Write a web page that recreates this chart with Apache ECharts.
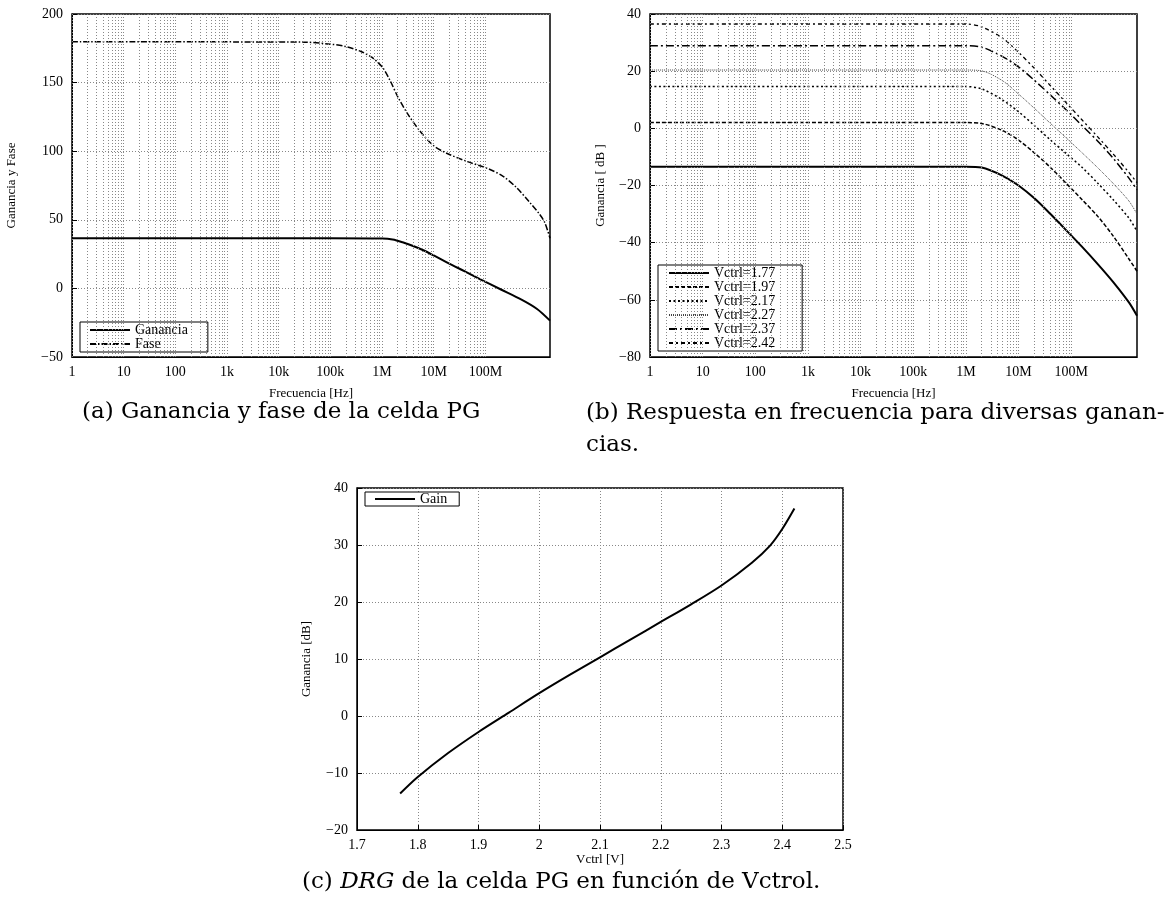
<!DOCTYPE html>
<html>
<head>
<meta charset="utf-8">
<script src="https://cdn.jsdelivr.net/npm/echarts@6/dist/echarts.min.js"></script>
<style>
  html, body { margin: 0; background: #fff; }
  #chart { width: 1167px; height: 904px; }
</style>
</head>
<body>
<div id="chart"></div>
<script>
// (a) gain and phase of the PG cell
const gainFreqA = [1, 1e5, 1e6, 1.6e6, 2.5e6, 4e6, 6.3e6, 1e7, 2e7, 4e7, 8e7, 2e8, 5e8, 1e9, 1.78e9];
const gainA = [36.5, 36.5, 36.3, 35.6, 33.6, 30.9, 27.8, 24, 18, 12.4, 6.6, -0.8, -8.2, -15, -23.5];
const phaseFreqA = [1, 3.16e4, 1e5, 2e5, 4e5, 6.3e5, 1e6, 1.41e6, 2e6, 3.16e6, 5.6e6, 1e7, 1.78e7, 4.5e7, 1.12e8, 2.24e8, 4e8, 7.1e8, 1.12e9, 1.41e9, 1.78e9];
const phaseA = [179.8, 179.5, 178, 176.3, 172.5, 168.5, 161.5, 152, 140, 127, 114, 104, 98.5, 92.4, 87.3, 81.5, 73.5, 63, 54, 48, 36.5];

// (b) frequency response for several control voltages
const freqB = [1, 1e6, 2e6, 5e6, 1e7, 2e7, 4e7, 8e7, 1.6e8, 3.2e8, 6.3e8, 1.26e9, 1.78e9];
const vctrlNames = ['Vctrl=1.77', 'Vctrl=1.97', 'Vctrl=2.17', 'Vctrl=2.27', 'Vctrl=2.37', 'Vctrl=2.42'];
const gain177 = [-13.4, -13.4, -13.7, -16.6, -20, -24.5, -29.9, -35.6, -41.4, -47.5, -53.8, -61, -65.6];
const gain197 = [2, 2, 1.7, -0.8, -4.1, -8.6, -13.6, -19.2, -24.9, -30.8, -37.7, -45.8, -50];
const gain217 = [14.6, 14.6, 13.8, 9.9, 5.8, 1, -4, -8.8, -13.6, -19.2, -25, -31.5, -36];
const gain227 = [20.4, 20.4, 20.1, 16.6, 12, 7, 1.8, -3.3, -8.5, -13.8, -19.3, -25.5, -30];
const gain237 = [28.9, 28.9, 28.4, 25.1, 21.5, 16.8, 11.7, 6.5, 1, -4.5, -10.5, -17.5, -21.5];
const gain242 = [36.5, 36.5, 35.5, 31.5, 26.6, 21, 15, 9, 3, -3, -9, -15.5, -19];

// (c) DRG versus Vctrl
const vctrlC = [1.771, 1.8, 1.85, 1.9, 1.95, 2.0, 2.05, 2.1, 2.15, 2.2, 2.25, 2.3, 2.35, 2.38, 2.4, 2.42];
const gainC = [-13.6, -10.7, -6.5, -2.8, 0.6, 4.0, 7.2, 10.3, 13.4, 16.5, 19.6, 22.9, 26.9, 29.9, 32.8, 36.4];

const freqTickLabels = ['1', '10', '100', '1k', '10k', '100k', '1M', '10M', '100M'];

const serif = '"Liberation Serif", "Times New Roman", serif';
const captionFont = '"DejaVu Serif", serif';

// vertical grid (major + minor decades) stops at 100M like the original
const gridFreqs = [];
for (let d = 0; d < 8; d++) {
  for (let m = 1; m < 10; m++) gridFreqs.push(m * Math.pow(10, d));
}
gridFreqs.push(1e8);

const zip = (xs, ys) => xs.map((x, i) => [x, ys[i]]);
const minus = value => String(value).replace('-', '\u2212');
const freqLabel = value => freqTickLabels[Math.round(Math.log10(value))] ?? '';

const textBase = { fontFamily: serif, fontSize: 14, color: '#000' };
const gridLineStyle = { color: '#888', type: [1, 2], width: 1 };

function logXAxis(gridIndex) {
  return {
    type: 'log',
    logBase: 10,
    gridIndex,
    min: 1,
    max: 1.78e9,
    name: 'Frecuencia [Hz]',
    nameLocation: 'middle',
    nameGap: 30,
    nameTextStyle: { ...textBase, fontSize: 13 },
    axisLine: { onZero: false, lineStyle: { color: '#000', width: 1 } },
    axisTick: { show: false },
    axisLabel: { ...textBase, margin: 8, formatter: freqLabel },
    splitLine: { show: false }
  };
}

function valueYAxis(gridIndex, min, max, interval, name, nameGap) {
  return {
    type: 'value',
    gridIndex,
    min,
    max,
    interval,
    name,
    nameLocation: 'middle',
    nameGap,
    nameTextStyle: { ...textBase, fontSize: 13 },
    axisLine: { show: true, onZero: false, lineStyle: { color: '#000', width: 1 } },
    axisTick: { show: true, inside: true, length: 5, lineStyle: { color: '#000' } },
    axisLabel: { ...textBase, margin: 9, formatter: minus },
    splitLine: { show: true, lineStyle: gridLineStyle }
  };
}

function gridSeries(index) {
  return {
    name: 'grid' + index,
    type: 'line',
    xAxisIndex: index,
    yAxisIndex: index,
    data: [],
    z: 1,
    markLine: {
      silent: true,
      symbol: 'none',
      animation: false,
      label: { show: false },
      emphasis: { disabled: true },
      lineStyle: gridLineStyle,
      data: gridFreqs.map(f => ({ xAxis: f }))
    }
  };
}

function curve(name, axisIndex, data, width, dash, color = '#000') {
  return {
    name,
    type: 'line',
    xAxisIndex: axisIndex,
    yAxisIndex: axisIndex,
    data,
    symbol: 'none',
    smooth: 0.3,
    z: 3,
    itemStyle: { color },
    lineStyle: { color, width, type: dash }
  };
}

function legendBox(data, left, top, padding) {
  return {
    data,
    left,
    top,
    orient: 'vertical',
    itemWidth: 40,
    itemHeight: 10,
    itemGap: 0,
    padding,
    borderColor: '#000',
    borderWidth: 1,
    borderRadius: 0,
    backgroundColor: '#fff',
    selectedMode: false,
    itemStyle: { opacity: 0 },
    textStyle: { ...textBase, fontSize: 14 }
  };
}

const captionStyle = { fontFamily: captionFont, fontSize: 23, fontWeight: 'normal', color: '#000' };

const chart = echarts.init(document.getElementById('chart'), null, { renderer: 'canvas' });
chart.setOption({
  animation: false,
  backgroundColor: '#fff',
  title: [
    { text: '(a) Ganancia y fase de la celda PG', left: 82, top: 401, padding: 0, textStyle: captionStyle },
    {
      text: '(b) Respuesta en frecuencia para diversas ganan-\ncias.',
      left: 586, top: 397, padding: 0,
      textStyle: { ...captionStyle, lineHeight: 32 }
    },
    {
      text: '(c) {i|DRG} de la celda PG en función de Vctrol.',
      left: 302, top: 871, padding: 0,
      textStyle: { ...captionStyle, rich: { i: { ...captionStyle, fontStyle: 'italic' } } }
    }
  ],
  grid: [
    { left: 72, top: 14, width: 478, height: 343, show: true, borderColor: '#000', borderWidth: 1.5 },
    { left: 650, top: 14, width: 487, height: 343, show: true, borderColor: '#000', borderWidth: 1.5 },
    { left: 357, top: 488, width: 486, height: 342, show: true, borderColor: '#000', borderWidth: 1.5 }
  ],
  xAxis: [
    logXAxis(0),
    logXAxis(1),
    {
      type: 'value',
      gridIndex: 2,
      min: 1.7,
      max: 2.5,
      interval: 0.1,
      name: 'Vctrl [V]',
      nameLocation: 'middle',
      nameGap: 23,
      nameTextStyle: { ...textBase, fontSize: 13 },
      axisLine: { onZero: false, lineStyle: { color: '#000', width: 1 } },
      axisTick: { show: true, inside: true, length: 5, lineStyle: { color: '#000' } },
      axisLabel: { ...textBase, margin: 8 },
      splitLine: { show: true, lineStyle: gridLineStyle }
    }
  ],
  yAxis: [
    valueYAxis(0, -50, 200, 50, 'Ganancia y Fase', 54),
    valueYAxis(1, -80, 40, 20, 'Ganancia [ dB ]', 43),
    valueYAxis(2, -20, 40, 10, 'Ganancia [dB]', 44)
  ],
  legend: [
    legendBox(['Ganancia', 'Fase'], 80, 322, [1, 20, 1, 9]),
    legendBox(vctrlNames, 658, 265, [1, 27, 1, 10]),
    legendBox(['Gain'], 365, 492, [0, 12, 0, 9])
  ],
  series: [
    gridSeries(0),
    curve('Ganancia', 0, zip(gainFreqA, gainA), 2, 'solid'),
    curve('Fase', 0, zip(phaseFreqA, phaseA), 1.5, [6, 2, 1.5, 2]),
    gridSeries(1),
    curve(vctrlNames[0], 1, zip(freqB, gain177), 2, 'solid'),
    curve(vctrlNames[1], 1, zip(freqB, gain197), 1.5, [4, 2]),
    curve(vctrlNames[2], 1, zip(freqB, gain217), 1.5, [2, 2.5]),
    curve(vctrlNames[3], 1, zip(freqB, gain227), 1, [1, 1], '#444'),
    curve(vctrlNames[4], 1, zip(freqB, gain237), 1.5, [8, 3, 2, 3]),
    curve(vctrlNames[5], 1, zip(freqB, gain242), 1.3, [4, 3, 2, 3]),
    curve('Gain', 2, zip(vctrlC, gainC), 2, 'solid')
  ]
});
</script>
</body>
</html>
